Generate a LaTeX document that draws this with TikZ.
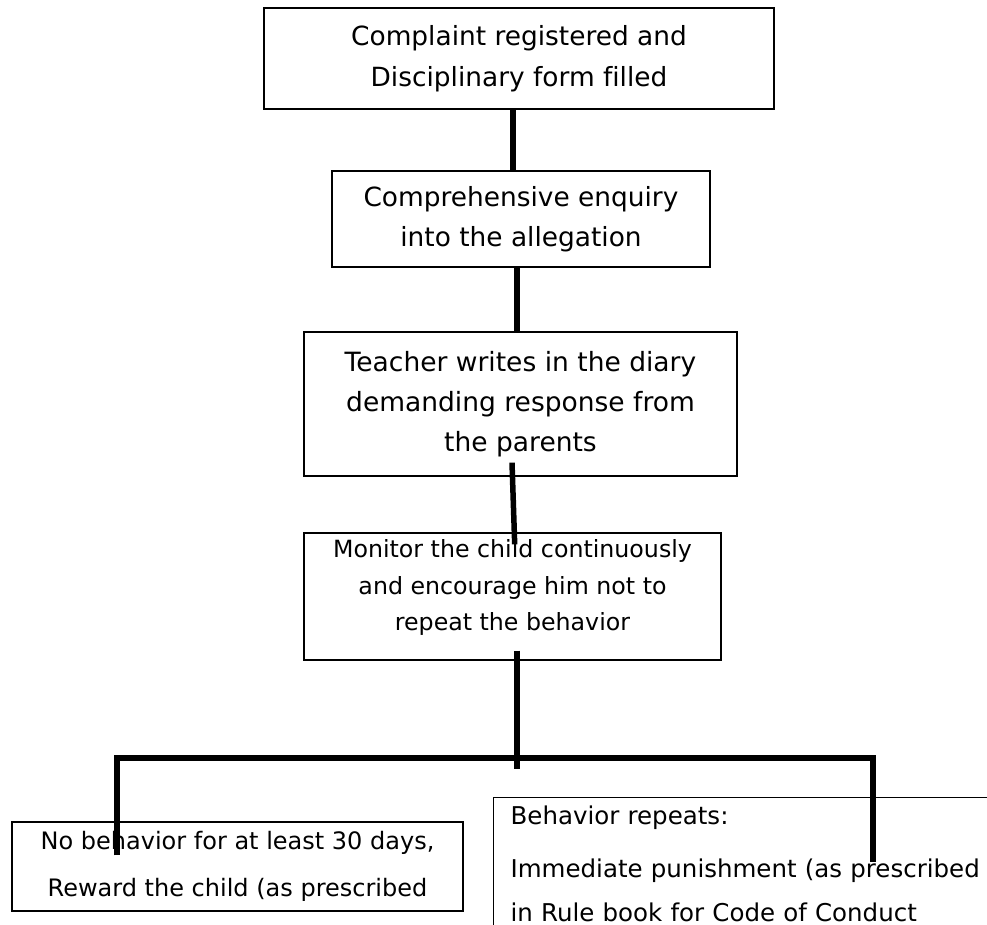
\documentclass[tikz,border=0pt]{standalone}
\usepackage{fontspec}
\setmainfont{DejaVu Sans}[Ligatures=NoCommon]
\begin{document}
\begin{tikzpicture}[x=1pt,y=-1pt,
  box/.style={draw, line width=1.3pt, inner sep=0pt, align=center},
  conn/.style={line width=5.5pt}]
\clip (0,0) rectangle (987,924);
\node[box, minimum width=510, minimum height=101, font=\fontsize{26.4}{41}\selectfont] (b1) at (519,58.5)
  {Complaint registered and\\Disciplinary form filled};
\node[box, minimum width=378, minimum height=96, font=\fontsize{26.4}{40}\selectfont] (b2) at (521,219)
  {Comprehensive enquiry\\into the allegation};
\node[box, minimum width=433, minimum height=144, font=\fontsize{26.5}{40}\selectfont] (b3) at (520.5,404)
  {Teacher writes in the diary\\demanding response from\\the parents};
\node[box, minimum width=417, minimum height=127, text depth=23pt, font=\fontsize{23.7}{36.5}\selectfont] (b4) at (512.5,596.5)
  {Monitor the child continuously\\and encourage him not to\\repeat the behavior};
\node[box, minimum width=451, minimum height=89, font=\fontsize{24}{47}\selectfont] (b5) at (237.5,866.5)
  {No behavior for at least 30 days,\\Reward the child (as prescribed};
\node[draw, line width=1.3pt, anchor=north west, inner xsep=17pt, inner ysep=8.4pt, text width=520pt, align=left,
  font=\fontsize{24.5}{48}\selectfont] (b6) at (493,797)
  {Behavior repeats:\\[5pt]Immediate punishment (as prescribed\\[-4pt]in Rule book for Code of Conduct};
\coordinate (j) at (517,758);
\draw[conn] ([xshift=-6pt]b1.south) -- ([xshift=-8pt]b2.north);
\draw[conn] ([xshift=-4pt]b2.south) -- ([xshift=-3.5pt]b3.north);
\draw[conn] ([xshift=-8.5pt,yshift=14pt]b3.south) -- ([xshift=2.2pt,yshift=-12pt]b4.north);
\draw[conn] ([xshift=4.5pt,yshift=10pt]b4.south) -- ([yshift=-11pt]j);
\draw[conn] ([xshift=-120.5pt,yshift=-34pt]b5.north) |- (j) -| ([xshift=380pt,yshift=-65pt]b6.north west);
\end{tikzpicture}
\end{document}
